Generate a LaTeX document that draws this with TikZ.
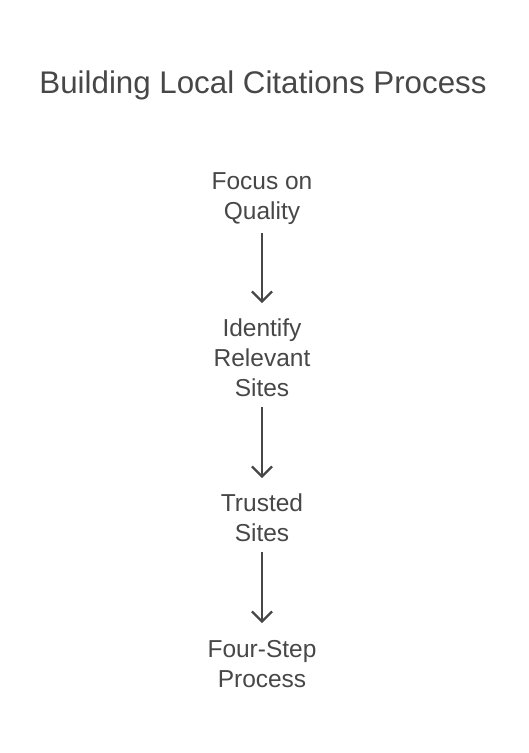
\documentclass[tikz,border=0pt]{standalone}
\usepackage{fontspec}
\setmainfont{Liberation Sans}
\usetikzlibrary{arrows.meta}
\definecolor{ink}{HTML}{474747}
\tikzset{
  lbl/.style={text=ink, align=center, font=\fontsize{24.5}{30}\selectfont, inner sep=0pt},
  ttl/.style={text=ink, font=\fontsize{31.3}{36}\selectfont, inner sep=0pt},
  flow/.style={draw=ink, line width=2.2pt, -{Straight Barb[length=10pt,width=20pt,line width=2.2pt]}}
}
\begin{document}
\begin{tikzpicture}[x=1pt,y=-1pt]
\useasboundingbox (0,0) rectangle (528,753);
\node[ttl] (title) at (263,85) {Building Local Citations Process};
\node[lbl] (n1) at (262,199) {Focus on\\Quality};
\node[lbl] (n2) at (262,358) {Identify\\Relevant\\Sites};
\node[lbl] (n3) at (262,518) {Trusted\\Sites};
\node[lbl] (n4) at (262,664) {Four-Step\\Process};
\coordinate (a1s) at (262,233); \coordinate (a1e) at (262,303);
\coordinate (a2s) at (262,407); \coordinate (a2e) at (262,478);
\coordinate (a3s) at (262,552); \coordinate (a3e) at (262,623);
\draw[flow] (a1s) -- (a1e);
\draw[flow] (a2s) -- (a2e);
\draw[flow] (a3s) -- (a3e);
\end{tikzpicture}
\end{document}
